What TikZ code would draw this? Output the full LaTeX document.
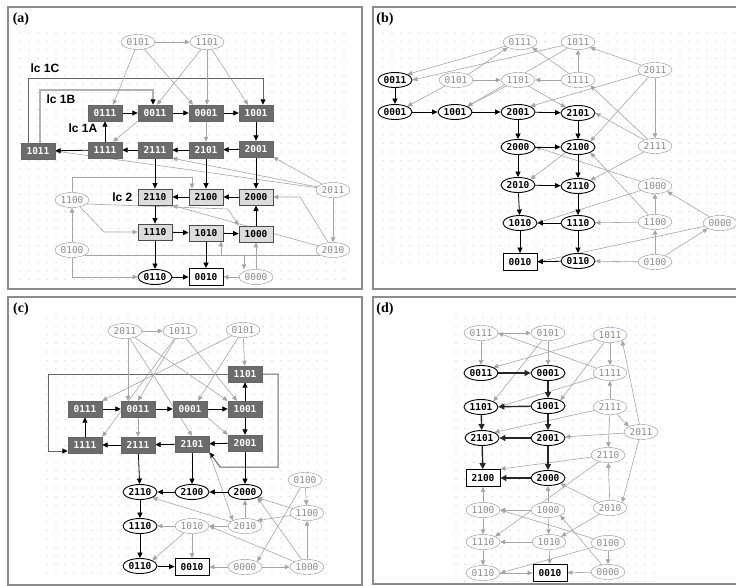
\documentclass[tikz,border=0pt]{standalone}
\usepackage{fontspec}
\usepackage{tikz}
\usetikzlibrary{positioning,arrows.meta,shapes.geometric,calc}
\newfontfamily\stfont{DejaVu Sans Mono}
\newfontfamily\lcfont{Liberation Sans}
\newfontfamily\labfont{Liberation Serif}

\definecolor{gridblue}{RGB}{180,196,232}
\definecolor{edgegray}{RGB}{165,165,165}
\definecolor{nodegray}{RGB}{140,140,140}
\definecolor{boxdark}{RGB}{108,108,108}
\definecolor{boxlight}{RGB}{220,220,220}
\definecolor{framegray}{RGB}{140,140,140}

\pgfdeclarelayer{grid}
\pgfdeclarelayer{edges}
\pgfsetlayers{grid,edges,main}

\tikzset{
  gnode/.style={ellipse, draw=nodegray, fill=white, text=nodegray, font=\stfont\fontsize{9.5}{10}\selectfont,
    minimum width=34pt, minimum height=15pt, inner sep=0.5pt},
  knode/.style={gnode, draw=black, text=black, line width=0.9pt, font=\stfont\bfseries\fontsize{9.5}{10}\selectfont},
  darkbox/.style={rectangle, draw=black!60, fill=boxdark, text=white, font=\stfont\bfseries\fontsize{9.5}{10}\selectfont,
    minimum width=34pt, minimum height=16pt, inner sep=1pt},
  lightbox/.style={darkbox, draw=black!70, line width=0.8pt, fill=boxlight, text=black},
  endbox/.style={darkbox, draw=black, line width=0.9pt, fill=white, text=black, minimum height=17pt},
  garr/.style={draw=edgegray, line width=0.6pt, -{Triangle[length=5pt,width=4.5pt]}},
  karr/.style={draw=black, line width=0.8pt, -{Triangle[length=5.5pt,width=5pt]}},
  thickarr/.style={draw=black!85, line width=1.4pt, -{Triangle[length=6pt,width=6pt]}},
  lcpath/.style={draw=black!60, line width=1pt, -{Triangle[length=5.5pt,width=5pt,color=black]}},
  lcpathb/.style={draw=black!30, line width=1.6pt, -{Triangle[length=5.5pt,width=5pt,color=black]}},
  lclabel/.style={font=\lcfont\bfseries\fontsize{12}{12}\selectfont, inner sep=0pt},
  panel/.style={draw=framegray, line width=1.5pt},
  plabel/.style={font=\labfont\bfseries\fontsize{14}{14}\selectfont, inner sep=0pt}
}

\begin{document}
\begin{tikzpicture}[x=1pt,y=-1pt]
\useasboundingbox (0,0) rectangle (736,586);

% Molduras
\draw[panel] (8,7) rectangle (362,289);
\draw[panel] (373,7) rectangle (745,289);
\draw[panel] (8,297) rectangle (362,585);
\draw[panel] (373,297) rectangle (745,584);
\node[plabel] (la) at (21,19) {(a)};
\node[plabel] (lb) at (385,19) {(b)};
\node[plabel] (lc) at (21,309) {(c)};
\node[plabel] (ld) at (385,309) {(d)};

% Grade de pontos
\begin{pgfonlayer}{grid}
\foreach \x in {20,29,...,348} \foreach \y in {33,41.5,...,286} \fill[gridblue] (\x,\y) circle (0.6pt);
\foreach \x in {383,392,...,736} \foreach \y in {33,41.5,...,263} \fill[gridblue] (\x,\y) circle (0.6pt);
\foreach \x in {47,56,...,327} \foreach \y in {318,326.5,...,581} \fill[gridblue] (\x,\y) circle (0.6pt);
\foreach \x in {456,465,...,655} \foreach \y in {318,326.5,...,583} \fill[gridblue] (\x,\y) circle (0.6pt);
\end{pgfonlayer}

% ---------- (a) ----------
\node[gnode] (a0101) at (138,42) {0101};
\node[gnode] (a1101) at (207,42) {1101};
\node[darkbox] (a0111) at (105,113) {0111};
\node[darkbox] (a0011) at (155,113) {0011};
\node[darkbox] (a0001) at (206,113) {0001};
\node[darkbox] (a1001) at (256,113) {1001};
\node[darkbox] (a1011) at (38,151) {1011};
\node[darkbox] (a1111) at (105,150) {1111};
\node[darkbox] (a2111) at (155,150) {2111};
\node[darkbox] (a2101) at (206,150) {2101};
\node[darkbox] (a2001) at (256,149) {2001};
\node[lightbox] (a2110) at (155,197) {2110};
\node[lightbox] (a2100) at (206,197) {2100};
\node[lightbox] (a2000) at (256,197) {2000};
\node[lightbox] (a1110) at (155,232) {1110};
\node[lightbox] (a1010) at (206,233) {1010};
\node[lightbox] (a1000) at (256,234) {1000};
\node[knode] (a0110) at (155,277) {0110};
\node[endbox] (a0010) at (206,277) {0010};
\node[gnode] (a0000) at (256,277) {0000};
\node[gnode] (a1100) at (72,200) {1100};
\node[gnode] (a0100) at (72,250) {0100};
\node[gnode] (a2011) at (333,190) {2011};
\node[gnode] (a2010) at (333,250) {2010};

\node[lclabel] (t1C) at (45,68) {lc 1C};
\node[lclabel] (t1B) at (61,99) {lc 1B};
\node[lclabel] (t1A) at (83,128) {lc 1A};
\node[lclabel, left=5pt of a2110] (t2) {lc 2};

\begin{pgfonlayer}{edges}
% ciclos limite
\draw[lcpath] ([xshift=-10pt]a1011.north) -- (28,78) -| ([xshift=7pt]a1001.north);
\draw[lcpathb] ([xshift=2pt]a1011.north) -- (40,90) -| ([xshift=-2pt]a0011.north);
% transicoes cinza
\draw[garr] (a0101) -- (a1101);
\draw[garr] (a0101) -- ([xshift=8pt]a0111.north);
\draw[garr] (a0101) -- ([xshift=-13pt]a0001.north);
\draw[garr] (a1101) -- ([xshift=2pt]a0011.north);
\draw[garr] (a1101) -- ([xshift=1pt]a0001.north);
\draw[garr] (a1101) -- ([xshift=-8pt]a1001.north);
\draw[garr] (a0001) -- (a2101);
\draw[garr] (a0011.south west) -- ([xshift=8pt]a1111.north);
\draw[garr] (a2011) -- (a2001.south east);
\draw[garr] (a2011) -- (a2111.south east);
\draw[garr] (a2011) -- (a1011.east);
\draw[garr] (a2011) -- (a2010);
\draw[garr] (a2010) -- (300,197) -- (a2000.east);
\draw[garr] (a2010) -- (a2110.south east);
\draw[garr] (a2010.200) -| ([xshift=15pt]a1010.south);
\draw[garr] (a0000) -- (a1000);
\draw[garr] (a0000) -- (a0010);
\draw[garr] (a0100) -- (a1100);
\draw[garr] (a0100.south) |- (a0110.west);
\draw[garr] (a0100.-20) -| ([xshift=-12pt]a0000.north);
\draw[garr] (a1100.-15) -- (228,209) -- (a1000.north west);
\draw[garr] (a1100.-40) -- (104,232) -- (a1110.west);
\draw[garr] (a1100.north) |- (192,177) -- ([xshift=-14pt]a2100.north);
% transicoes pretas
\draw[karr] (a0111) -- (a0011);
\draw[karr] (a0011) -- (a0001);
\draw[karr] (a0001) -- (a1001);
\draw[karr] (a1001) -- (a2001);
\draw[karr] (a2001) -- (a2101);
\draw[karr] (a2101) -- (a2111);
\draw[karr] (a2111) -- (a1111);
\draw[karr] (a1111) -- (a1011);
\draw[karr] (a1111) -- (a0111);
\draw[karr] (a2111) -- (a2110);
\draw[karr] (a2101) -- (a2100);
\draw[karr] (a2001) -- (a2000);
\draw[karr] (a2000) -- (a2100);
\draw[karr] (a2100) -- (a2110);
\draw[karr] (a2110) -- (a1110);
\draw[karr] (a1110) -- (a1010);
\draw[karr] (a1010) -- (a1000);
\draw[karr] (a1000) -- (a2000);
\draw[karr] (a1110) -- (a0110);
\draw[karr] (a1010) -- (a0010);
\draw[karr] (a0110) -- (a0010);
\end{pgfonlayer}

% ---------- (b) ----------
\node[gnode] (b0111) at (520,42) {0111};
\node[gnode] (b1011) at (578,42) {1011};
\node[gnode] (b2011) at (655,70) {2011};
\node[knode] (b0011) at (395,80) {0011};
\node[gnode] (b0101) at (456,80) {0101};
\node[gnode] (b1101) at (518,80) {1101};
\node[gnode] (b1111) at (578,80) {1111};
\node[knode] (b0001) at (395,112) {0001};
\node[knode] (b1001) at (455,112) {1001};
\node[knode] (b2001) at (518,112) {2001};
\node[knode] (b2101) at (578,113) {2101};
\node[knode] (b2000) at (518,147) {2000};
\node[knode] (b2100) at (578,147) {2100};
\node[gnode] (b2111) at (655,146) {2111};
\node[knode] (b2010) at (518,185) {2010};
\node[knode] (b2110) at (578,186) {2110};
\node[gnode] (b1000) at (655,186) {1000};
\node[knode] (b1010) at (520,223) {1010};
\node[knode] (b1110) at (578,223) {1110};
\node[gnode] (b1100) at (655,222) {1100};
\node[gnode] (b0000) at (720,223) {0000};
\node[endbox] (b0010) at (520,262) {0010};
\node[knode] (b0110) at (578,261) {0110};
\node[gnode] (b0100) at (655,262) {0100};

\begin{pgfonlayer}{edges}
% transicoes cinza
\draw[garr] (b0101) -- (b1101);
\draw[garr] (b1111) -- (b1101);
\draw[garr] (b1111) -- (b1011);
\draw[garr] (b1111) -- (b0111.south east);
\draw[garr] (b2011) -- (b1011.south east);
\draw[garr] (b2011) -- (b2111);
\draw[garr] (b2011) -- (b2100.north east);
\draw[garr] (b2011) -- (b2001.north east);
\draw[garr] (b1101) -- (b2101.north west);
\draw[garr] (b0111) -- (b0011.north east);
\draw[garr] (b1011) -- (b0011.east);
\draw[garr] (b1011) -- (b1001.north east);
\draw[garr] (b1101) -- (b1001.north east);
\draw[garr] (b0101) -- (b0001.north east);
\draw[garr] (b0101.north east) -- (b0111.south west);
\draw[garr] (b2111) -- (b1111.south east);
\draw[garr] (b2111) -- (b2101.east);
\draw[garr] (b2111) -- (b2110.north east);
\draw[garr] (b2100.south west) -- (b2010.north east);
\draw[garr] (b1000) -- (b2000.east);
\draw[garr] (b1100) -- (b2100.south east);
\draw[garr] (b1000) -- (b1010.east);
\draw[garr] (b1100) -- (b1000);
\draw[garr] (b1100) -- (b1110);
\draw[garr] (b0000) -- (b1000.south east);
\draw[garr] (b0000) -- (b0010.east);
\draw[garr] (b0100) -- (b0000.south west);
\draw[garr] (b0100) -- (b1100);
\draw[garr] (b0100) -- (b0110);
% transicoes pretas
\draw[karr] (b0011) -- (b0001);
\draw[karr] (b0001) -- (b1001);
\draw[karr] (b1001) -- (b2001);
\draw[karr] (b2001) -- (b2101);
\draw[karr] (b2001) -- (b2000);
\draw[karr] (b2101) -- (b2100);
\draw[karr] (b2000) -- (b2100);
\draw[karr] (b2000) -- (b2010);
\draw[karr] (b2100) -- (b2110);
\draw[karr] (b2010) -- (b2110);
\draw[karr] (b2010) -- (b1010);
\draw[karr] (b2110) -- (b1110);
\draw[karr] (b1110) -- (b1010);
\draw[karr] (b1010) -- (b0010);
\draw[karr] (b1110) -- (b0110);
\draw[karr] (b0110) -- (b0010);
\end{pgfonlayer}

% ---------- (c) ----------
\node[gnode] (c2011) at (125,331) {2011};
\node[gnode] (c1011) at (180,331) {1011};
\node[gnode] (c0101) at (243,330) {0101};
\node[darkbox] (c1101) at (245,374) {1101};
\node[darkbox] (c0111) at (85,409) {0111};
\node[darkbox] (c0011) at (138,409) {0011};
\node[darkbox] (c0001) at (190,409) {0001};
\node[darkbox] (c1001) at (245,409) {1001};
\node[darkbox] (c1111) at (85,445) {1111};
\node[darkbox] (c2111) at (138,445) {2111};
\node[darkbox] (c2101) at (192,444) {2101};
\node[darkbox] (c2001) at (245,443) {2001};
\node[knode] (c2110) at (140,492) {2110};
\node[knode] (c2100) at (192,492) {2100};
\node[knode] (c2000) at (245,492) {2000};
\node[gnode] (c0100) at (305,480) {0100};
\node[gnode] (c1100) at (307,513) {1100};
\node[knode] (c1110) at (140,526) {1110};
\node[gnode] (c1010) at (192,526) {1010};
\node[gnode] (c2010) at (245,526) {2010};
\node[knode] (c0110) at (140,566) {0110};
\node[endbox] (c0010) at (192,567) {0010};
\node[gnode] (c0000) at (245,567) {0000};
\node[gnode] (c1000) at (307,567) {1000};

\begin{pgfonlayer}{edges}
% laco em volta dos estados
\draw[lcpath] (c1101.west) -| (48,451) -- (c1111.west |- 0,451);
\draw[lcpath] (c1101.east) -| (278,467) -- (220,467) -- (c2101.south east);
% transicoes cinza
\draw[garr] (c2011) -- (c1011);
\draw[garr] (c0101) -- (c1101);
\draw[garr] ([xshift=3pt]c2011.south) -- ([xshift=-10pt]c0011.north);
\draw[garr] (c0011) -- (c2111);
\draw[garr] (c2011) -- (c1001.north west);
\draw[garr] (c2011) -- (c2101.north);
\draw[garr] (c1011) -- (c0011.north);
\draw[garr] (c1011) -- (c1111.north east);
\draw[garr] (c1011) -- ([xshift=-8pt]c1001.north);
\draw[garr] (c0101) -- (c0111.north east);
\draw[garr] (c0101) -- ([xshift=8pt]c0001.north);
\draw[garr] (c0001.south east) -- (c2001.north west);
\draw[garr] (c2101.south east) -- (c2010.north west);
\draw[garr] (c0100) -- (c1100);
\draw[garr] (c0100) -- (c0000.north east);
\draw[garr] (c1100) -- (c2000.south east);
\draw[garr] (c1100) -- (c2010.north east);
\draw[garr] (c2010) -- (c2000);
\draw[garr] (c2010) -- (c1010);
\draw[garr] (c2010) -- (c2110.south east);
\draw[garr] (c1010) -- (c1110);
\draw[garr] (c1010) -- (c0010);
\draw[garr] (c1010) -- (c0110.north east);
\draw[garr] (c1000) -- (c1010.east);
\draw[garr] (c1000) -- (c1100);
\draw[garr] (c1000) -- (c2000.south east);
\draw[garr] (c0000) -- (c1000);
\draw[garr] (c0000) -- (c0010);
% transicoes pretas
\draw[karr] (c0111) -- (c0011);
\draw[karr] (c0011) -- (c0001);
\draw[karr] (c0001) -- (c1001);
\draw[karr] (c1001) -- (c1101);
\draw[karr] (c1001) -- (c2001);
\draw[karr] (c2001) -- (c2101);
\draw[karr] (c2101) -- (c2111);
\draw[karr] (c2111) -- (c1111);
\draw[karr] (c1111) -- (c0111);
\draw[karr] (c2111) -- (c2110);
\draw[karr] (c2101) -- (c2100);
\draw[karr] (c2001) -- (c2000);
\draw[karr] (c2000) -- (c2100);
\draw[karr] (c2100) -- (c2110);
\draw[karr] (c2110) -- (c1110);
\draw[karr] (c1110) -- (c0110);
\draw[karr] (c0110) -- (c0010);
\end{pgfonlayer}

% ---------- (d) ----------
\node[gnode] (d0111) at (481,333) {0111};
\node[gnode] (d0101) at (548,333) {0101};
\node[gnode] (d1011) at (610,335) {1011};
\node[knode] (d0011) at (481,373) {0011};
\node[knode] (d0001) at (548,373) {0001};
\node[gnode] (d1111) at (610,373) {1111};
\node[knode] (d1101) at (481,407) {1101};
\node[knode] (d1001) at (548,406) {1001};
\node[gnode] (d2111) at (610,407) {2111};
\node[gnode] (d2011) at (641,432) {2011};
\node[knode] (d2101) at (482,438) {2101};
\node[knode] (d2001) at (548,438) {2001};
\node[gnode] (d2110) at (608,455) {2110};
\node[endbox] (d2100) at (483,478) {2100};
\node[knode] (d2000) at (548,478) {2000};
\node[gnode] (d1100) at (483,510) {1100};
\node[gnode] (d1000) at (548,510) {1000};
\node[gnode] (d2010) at (610,508) {2010};
\node[gnode] (d1110) at (483,542) {1110};
\node[gnode] (d1010) at (549,542) {1010};
\node[gnode] (d0100) at (608,543) {0100};
\node[gnode] (d0110) at (483,573) {0110};
\node[endbox] (d0010) at (550,573) {0010};
\node[gnode] (d0000) at (608,572) {0000};

\begin{pgfonlayer}{edges}
% transicoes cinza
\draw[garr] (d0111) -- (d0101);
\draw[garr] (d0111) -- (d0011);
\draw[garr] (d0101) -- (d0001);
\draw[garr] (d1011) -- (d1111);
\draw[garr] (d1011) -- (d0011.north east);
\draw[garr] (d1011) -- (d1001.north east);
\draw[garr] (d0101) -- (d1101.north east);
\draw[garr] (d1111) -- (d0111.east);
\draw[garr] (d1111) -- (d1101.east);
\draw[garr] (d2111) -- (d1111);
\draw[garr] (d2111) -- (d2011.north west);
\draw[garr] (d2011) -- (d1011.south east);
\draw[garr] (d2111) -- (d2101.north east);
\draw[garr] (d2011) -- (d2001);
\draw[garr] (d2111) -- (d2110);
\draw[garr] (d2011) -- (d2010.north east);
\draw[garr] (d2010) -- (d2110);
\draw[garr] (d2110) -- (d2100.north east);
\draw[garr] (d2110) -- (d1110.north east);
\draw[garr] (d2010) -- (d2000.south east);
\draw[garr] (d2010) -- (d1010.north east);
\draw[garr] (d1000) -- (d2000);
\draw[garr] (d1100) -- (d2100);
\draw[garr] (d1000) -- (d1100);
\draw[garr] (d1100) -- (d1110);
\draw[garr] (d1000) -- (d1010);
\draw[garr] (d1010) -- (d1110);
\draw[garr] (d0100) -- (d1100.east);
\draw[garr] (d0000) -- (d1000.south east);
\draw[garr] (d0100) -- (d0110.east);
\draw[garr] (d0100) -- (d0000);
\draw[garr] (d1110) -- (d0110);
\draw[garr] (d1010) -- (d0010);
\draw[garr] (d0110) -- (d0010);
\draw[garr] (d0000) -- (d0010);
% transicoes pretas
\draw[thickarr] (d0011) -- (d0001);
\draw[thickarr] (d0001) -- (d1001);
\draw[thickarr] (d1001) -- (d1101);
\draw[thickarr] (d1101) -- (d2101);
\draw[thickarr] (d1001) -- (d2001);
\draw[thickarr] (d2001) -- (d2101);
\draw[thickarr] (d2101) -- (d2100);
\draw[thickarr] (d2001) -- (d2000);
\draw[thickarr] (d2000) -- (d2100);
\end{pgfonlayer}
\end{tikzpicture}
\end{document}
